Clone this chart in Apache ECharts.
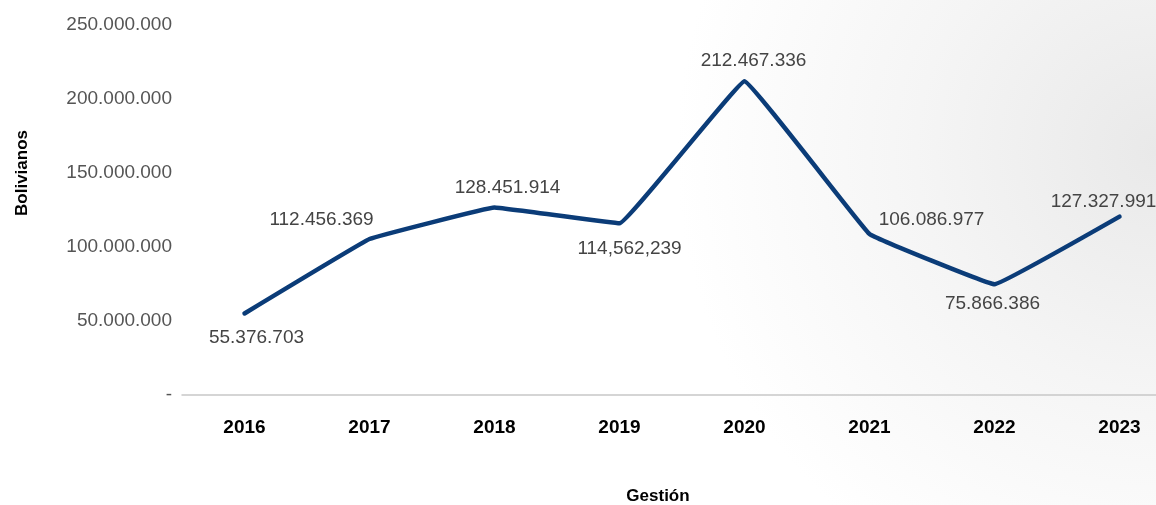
<!DOCTYPE html>
<html>
<head>
<meta charset="utf-8">
<script src="https://cdn.jsdelivr.net/npm/echarts@6/dist/echarts.min.js"></script>
<style>
html,body{margin:0;padding:0;background:#fff;}
#chart{width:1156px;height:505px;}
</style>
</head>
<body>
<div id="chart"></div>
<script>
// ---- data ----
const years = ['2016','2017','2018','2019','2020','2021','2022','2023'];
const values = [55100000, 105400000, 126700000, 116000000, 212000000, 108800000, 74800000, 120500000];
// printed data labels (as in the picture)
const valueLabels = ['55.376.703','112.456.369','128.451.914','114,562,239','212.467.336','106.086.977','75.866.386','127.327.991'];
const yTicks = [0, 50000000, 100000000, 150000000, 200000000, 250000000];
const yAxisTitle = 'Bolivianos';
const xAxisTitle = 'Gestión';

// ---- layout (label offsets in px) ----
const labelOffsets = [[12,24],[-48,-19],[13,-20],[10,25],[9,-20],[62,-14],[-2,19],[-16,-15]];

const FONT = "'Liberation Sans', Arial, sans-serif";

function fmt(v){
  if (v === 0) return '-';
  return String(Math.round(v)).replace(/\B(?=(\d{3})+(?!\d))/g, '.');
}

const chart = echarts.init(document.getElementById('chart'), null, {renderer:'canvas'});
chart.setOption({
  animation:false,
  backgroundColor:{
    type:'radial', x:1.0, y:0.3, r:0.95,
    colorStops:[{offset:0,color:'#e9e9e9'},{offset:0.5,color:'#f5f5f5'},{offset:1,color:'#ffffff'}]
  },
  grid:{left:182, width:1000, top:25, bottom:110, containLabel:false, outerBoundsMode:'none'},
  xAxis:{
    type:'category', data:years, boundaryGap:true,
    axisLine:{show:true, lineStyle:{color:'#c8c8c8', width:1.5}},
    axisTick:{show:false},
    axisLabel:{fontFamily:FONT, fontSize:19, fontWeight:'bold', color:'#000', margin:23}
  },
  yAxis:{
    type:'value', min:yTicks[0], max:yTicks[yTicks.length-1], interval:yTicks[1]-yTicks[0],
    axisLine:{show:false}, axisTick:{show:false}, splitLine:{show:false},
    axisLabel:{fontFamily:FONT, fontSize:19, color:'#555', margin:10, formatter:fmt}
  },
  graphic:[
    {type:'text', x:22, y:173, rotation:Math.PI/2,
     style:{text:yAxisTitle, fontFamily:FONT, fontSize:17, fontWeight:'bold', fill:'#000', align:'center', verticalAlign:'middle'}},
    {type:'text', x:658, y:496,
     style:{text:xAxisTitle, fontFamily:FONT, fontSize:17, fontWeight:'bold', fill:'#000', align:'center', verticalAlign:'middle'}}
  ],
  series:[{
    type:'line',
    data:values,
    smooth:0.05,
    symbol:'circle', symbolSize:2, showSymbol:true,
    itemStyle:{color:'#0b3c78'},
    lineStyle:{color:'#0b3c78', width:4.5, cap:'round', join:'round'},
    label:{show:true, position:'inside', fontFamily:FONT, fontSize:19, color:'#444',
      formatter:p=>valueLabels[p.dataIndex]},
    labelLayout:function(p){
      const o = labelOffsets[p.dataIndex];
      return {dx:o[0], dy:o[1], hideOverlap:false};
    },
    emphasis:{disabled:true}
  }]
});
</script>
</body>
</html>
